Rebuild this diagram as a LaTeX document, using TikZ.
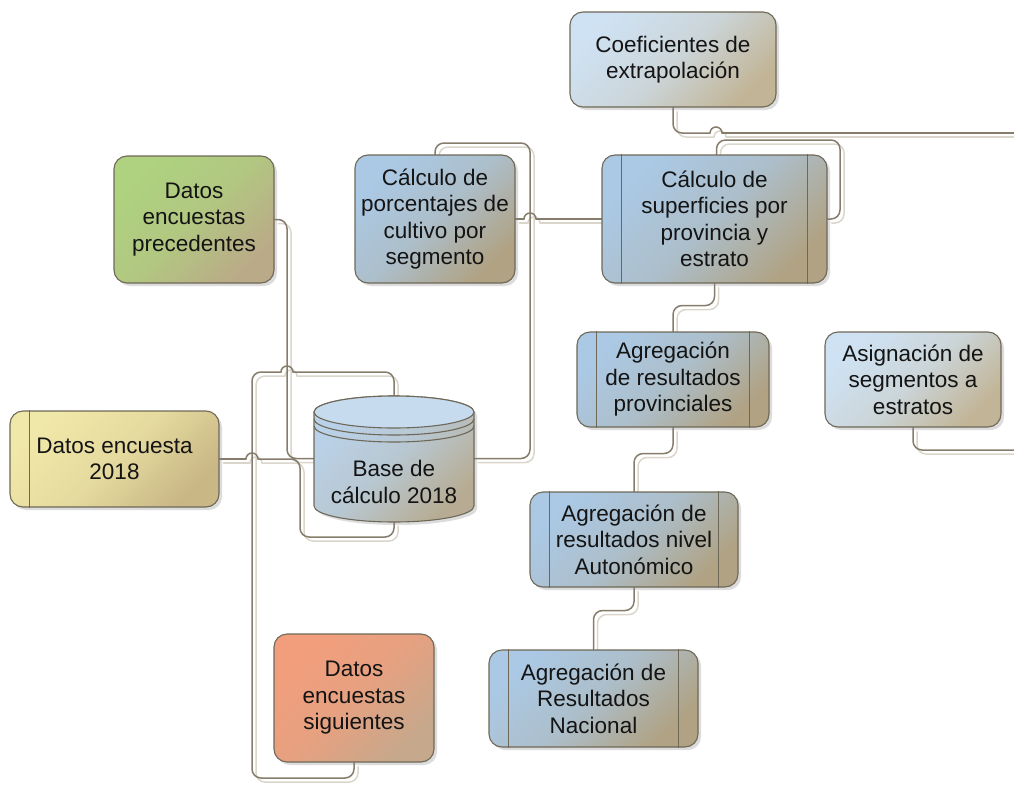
\documentclass[tikz,border=0pt]{standalone}
\usepackage{fontspec}
\setmainfont{Liberation Sans}
\usetikzlibrary{shadows}
\definecolor{bordc}{HTML}{6E6858}
\definecolor{conncol}{HTML}{857C6B}
\definecolor{connsh}{HTML}{DAD6CC}
\definecolor{txtc}{HTML}{141414}
\definecolor{bLa}{HTML}{CFE2F3}
\definecolor{bLb}{HTML}{C2B597}
\definecolor{bDa}{HTML}{ABC9E5}
\definecolor{bDb}{HTML}{B0A283}
\definecolor{gA}{HTML}{AED27F}
\definecolor{gB}{HTML}{BBAA88}
\definecolor{yA}{HTML}{F0E8A8}
\definecolor{yB}{HTML}{C9B786}
\definecolor{oA}{HTML}{F29E7C}
\definecolor{oB}{HTML}{C6A88C}
\definecolor{cA}{HTML}{B9D2EA}
\definecolor{cB}{HTML}{B7AC93}
\definecolor{cTop}{HTML}{C6DBEE}
\newcommand\boxfont{\fontsize{22.5}{26.5}\selectfont}
\pgfdeclarelayer{bg}
\pgfsetlayers{bg,main}
\tikzset{
  box/.style={draw=bordc, line width=1.1pt, rounded corners=13pt, align=center,
    inner sep=0pt, font=\boxfont, text=txtc,
    drop shadow={shadow xshift=3pt, shadow yshift=-3pt, opacity=0.3, fill=black!45}},
  grad/.style n args={2}{top color=#1, bottom color=#2, middle color=#1!72!#2, shading angle=45},
  lightblue/.style={grad={bLa}{bLb}},
  darkblue/.style={grad={bDa}{bDb}},
  greenbox/.style={grad={gA}{gB}},
  yellowbox/.style={grad={yA}{yB}},
  orangebox/.style={grad={oA}{oB}},
  bar/.style={draw=bordc, line width=1pt},
  conn/.style={line width=1.5pt, rounded corners=9pt, line cap=round},
  jump/.style={line width=1.5pt, line cap=round},
}
\begin{document}
\begin{tikzpicture}[x=1pt,y=-1pt]
\useasboundingbox (0,0) rectangle (1014,784);
% nodes
\node[box, lightblue, minimum width=206pt, minimum height=95pt] (coef) at (673,59.5) {Coeficientes de\\extrapolación};
\node[box, darkblue, minimum width=225pt, minimum height=128pt] (sup) at (714.5,219) {Cálculo de\\superficies por\\provincia y\\estrato};
\node[box, darkblue, minimum width=160pt, minimum height=128pt] (porc) at (435,219) {Cálculo de\\porcentajes de\\cultivo por\\segmento};
\node[box, greenbox, minimum width=160pt, minimum height=127pt] (prec) at (194,219.5) {Datos\\encuestas\\precedentes};
\node[box, yellowbox, minimum width=209pt, minimum height=96pt] (d18) at (114.5,459) {Datos encuesta\\2018};
\node[box, darkblue, minimum width=192pt, minimum height=95pt] (prov) at (673,379.5) {Agregación\\de resultados\\provinciales};
\node[box, lightblue, minimum width=176pt, minimum height=95pt] (asig) at (913,379.5) {Asignación de\\segmentos a\\estratos};
\node[box, darkblue, minimum width=208pt, minimum height=95pt] (aut) at (634,539.5) {Agregación de\\resultados nivel\\Autonómico};
\node[box, darkblue, minimum width=209pt, minimum height=97pt] (nac) at (593.5,698.5) {Agregación de\\Resultados\\Nacional};
\node[box, orangebox, minimum width=160pt, minimum height=128pt] (sig) at (354,698) {Datos\\encuestas\\siguientes};
% cylinder
\node[minimum width=160pt, minimum height=127pt, inner sep=0pt] (base) at (394,458.5) {};
\fill[black!45, opacity=0.3] (317,415) -- (317,509) arc[start angle=180,end angle=360,x radius=80pt,y radius=16pt] -- (477,415) arc[start angle=0,end angle=180,x radius=80pt,y radius=16pt] -- cycle;
\draw[bordc, line width=1.1pt, grad={cA}{cB}]
  (314,412) -- (314,506) arc[start angle=180,end angle=360,x radius=80pt,y radius=16pt]
  -- (474,412) arc[start angle=0,end angle=180,x radius=80pt,y radius=16pt] -- cycle;
\draw[bordc, line width=1.1pt, fill=cTop] (394,412) ellipse[x radius=80pt, y radius=16pt];
\draw[bordc, line width=1.1pt] (314,419) arc[start angle=180,end angle=360,x radius=80pt,y radius=16pt];
\draw[bordc, line width=1.1pt] (314,426) arc[start angle=180,end angle=360,x radius=80pt,y radius=16pt];
\node[font=\boxfont, text=txtc, align=center] (basetxt) at (394,482) {Base de\\cálculo 2018};
% bars
\foreach \n in {sup,prov,aut,nac}{
  \draw[bar] ([xshift=20pt]\n.north west) -- ([xshift=20pt]\n.south west);
  \draw[bar] ([xshift=-20pt]\n.north east) -- ([xshift=-20pt]\n.south east);
}
\draw[bar] ([xshift=20pt]d18.north west) -- ([xshift=20pt]d18.south west);
% edge coordinates
\coordinate (eR1) at (1014,133);
\coordinate (eR2) at (1014,450);
% connectors
\begin{pgfonlayer}{bg}
\foreach \dd/\cc in {4/connsh,0/conncol}{
\begin{scope}[transform canvas={xshift=\dd pt,yshift=-\dd pt}]
% Coeficientes -> right edge (jump)
\draw[conn, draw=\cc] (coef.south) |- (710,133);
\draw[jump, draw=\cc] (710,133) arc[start angle=180,end angle=0,radius=6pt];
\draw[conn, draw=\cc] (722,133) -- (eR1);
% loop on superficies
\draw[conn, draw=\cc] ([xshift=2pt]sup.north) |- (840,140) |- (sup.east);
\draw[conn, draw=\cc] (sup.south) -- ++(0,22) -| (prov.north);
\draw[conn, draw=\cc] (prov.south) -- ++(0,26) -| (aut.north);
\draw[conn, draw=\cc] (aut.south) -- ++(0,23) -| (nac.north);
\draw[conn, draw=\cc] (asig.south) |- (eR2);
% porcentajes -> superficies (jump)
\draw[conn, draw=\cc] (porc.east) -- (524,219);
\draw[jump, draw=\cc] (524,219) arc[start angle=180,end angle=0,radius=6pt];
\draw[conn, draw=\cc] (536,219) -- (sup.west);
% porcentajes -> base
\draw[conn, draw=\cc] (porc.north) |- (530,143) |- (base.east);
% precedentes -> base
\draw[conn, draw=\cc] (prec.east) -| (287,458.5) -- (base.west);
% base -> siguientes (jump)
\draw[conn, draw=\cc] (base.north) |- (293,372);
\draw[jump, draw=\cc] (293,372) arc[start angle=0,end angle=180,radius=6pt];
\draw[conn, draw=\cc] (281,372) -- (252,372) -- (252,778) -| (sig.south);
% datos 2018 -> base (jump)
\draw[conn, draw=\cc] (d18.east) -- (246,459);
\draw[jump, draw=\cc] (246,459) arc[start angle=180,end angle=0,radius=6pt];
\draw[conn, draw=\cc] (258,459) -| (300,537) -| (base.south);
\end{scope}}
\end{pgfonlayer}
\end{tikzpicture}
\end{document}
